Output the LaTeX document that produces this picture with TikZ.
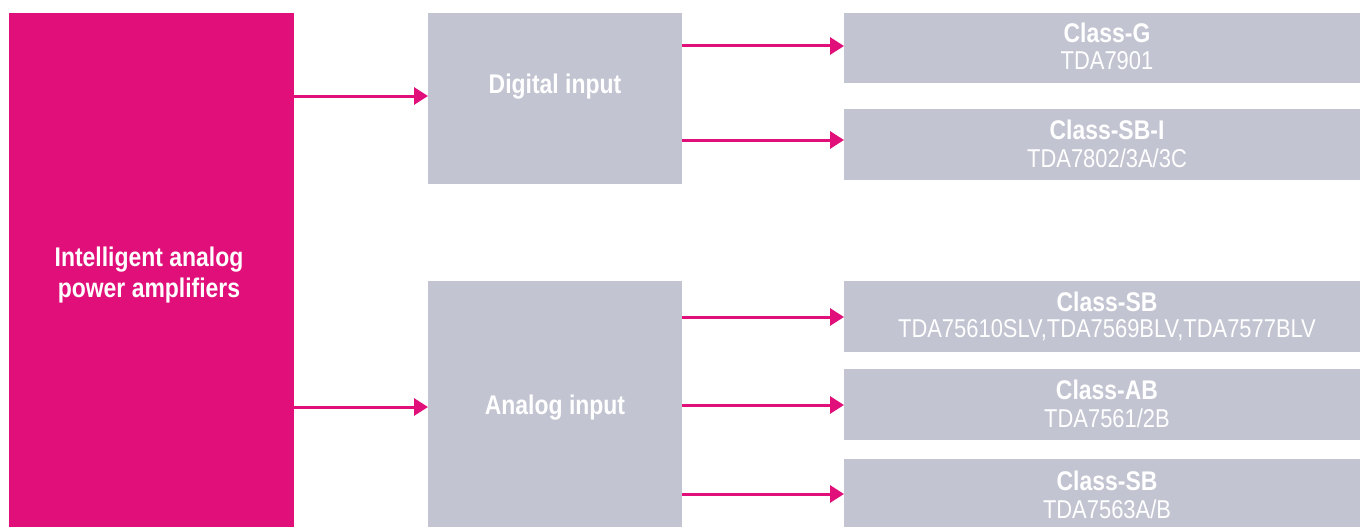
\documentclass[tikz,border=0pt]{standalone}
\usepackage{fontspec}
\setmainfont{Liberation Sans}[FakeStretch=0.85]
\usetikzlibrary{arrows.meta}
\definecolor{stpink}{RGB}{224,15,122}
\definecolor{stgray}{RGB}{194,196,209}
\begin{document}
\begin{tikzpicture}[x=1pt,y=-1pt,
  boxbase/.style={draw=none,inner sep=0pt,outer sep=0pt,anchor=north west},
  pinkbox/.style={boxbase,fill=stpink},
  graybox/.style={boxbase,fill=stgray},
  lbl/.style={text=white,align=center,inner sep=0pt,font=\fontsize{27}{31}\selectfont\bfseries},
  sublbl/.style={text=white,align=center,inner sep=0pt,font=\fontsize{25.8}{29}\selectfont},
  arr/.style={draw=stpink,line width=3pt,-{Triangle[length=14pt,width=17pt]}}]
\useasboundingbox (0,0) rectangle (1360,527);
% main boxes
\node[pinkbox,minimum width=285pt,minimum height=514pt] (amp) at (9,13) {};
\node[lbl] (ampt) at (149,275) {Intelligent analog\\power amplifiers};
\node[graybox,minimum width=254pt,minimum height=171pt] (dig) at (428,13) {};
\node[lbl] (digt) at (555,87) {Digital input};
\node[graybox,minimum width=254pt,minimum height=246pt] (ana) at (428,281) {};
\node[lbl] (anat) at (555,408) {Analog input};
% right boxes
\node[graybox,minimum width=516pt,minimum height=70pt] (cg) at (844,13) {};
\node[lbl] (cgt) at (1107,33) {Class-G};
\node[sublbl] (cgs) at (1107,61) {TDA7901};
\node[graybox,minimum width=516pt,minimum height=71pt] (csbi) at (844,109) {};
\node[lbl] (csbit) at (1107,130) {Class-SB-I};
\node[sublbl] (csbis) at (1107,158) {TDA7802/3A/3C};
\node[graybox,minimum width=516pt,minimum height=71pt] (csb) at (844,281) {};
\node[lbl] (csbt) at (1107,302) {Class-SB};
\node[sublbl] (csbs) at (1107,330) {TDA75610SLV,TDA7569BLV,TDA7577BLV};
\node[graybox,minimum width=516pt,minimum height=71pt] (cab) at (844,369) {};
\node[lbl] (cabt) at (1107,390) {Class-AB};
\node[sublbl] (cabs) at (1107,418) {TDA7561/2B};
\node[graybox,minimum width=516pt,minimum height=68pt] (csb2) at (844,459) {};
\node[lbl] (csb2t) at (1107,481) {Class-SB};
\node[sublbl] (csb2s) at (1107,509) {TDA7563A/B};
% arrows
\draw[arr] (amp.east |- 0,96) -- (dig.west |- 0,96);
\draw[arr] (amp.east |- 0,407) -- (ana.west |- 0,407);
\draw[arr] (dig.east |- 0,46) -- (cg.west |- 0,46);
\draw[arr] (dig.east |- 0,140) -- (csbi.west |- 0,140);
\draw[arr] (ana.east |- 0,317) -- (csb.west |- 0,317);
\draw[arr] (ana.east |- 0,405) -- (cab.west |- 0,405);
\draw[arr] (ana.east |- 0,494) -- (csb2.west |- 0,494);
\end{tikzpicture}
\end{document}
